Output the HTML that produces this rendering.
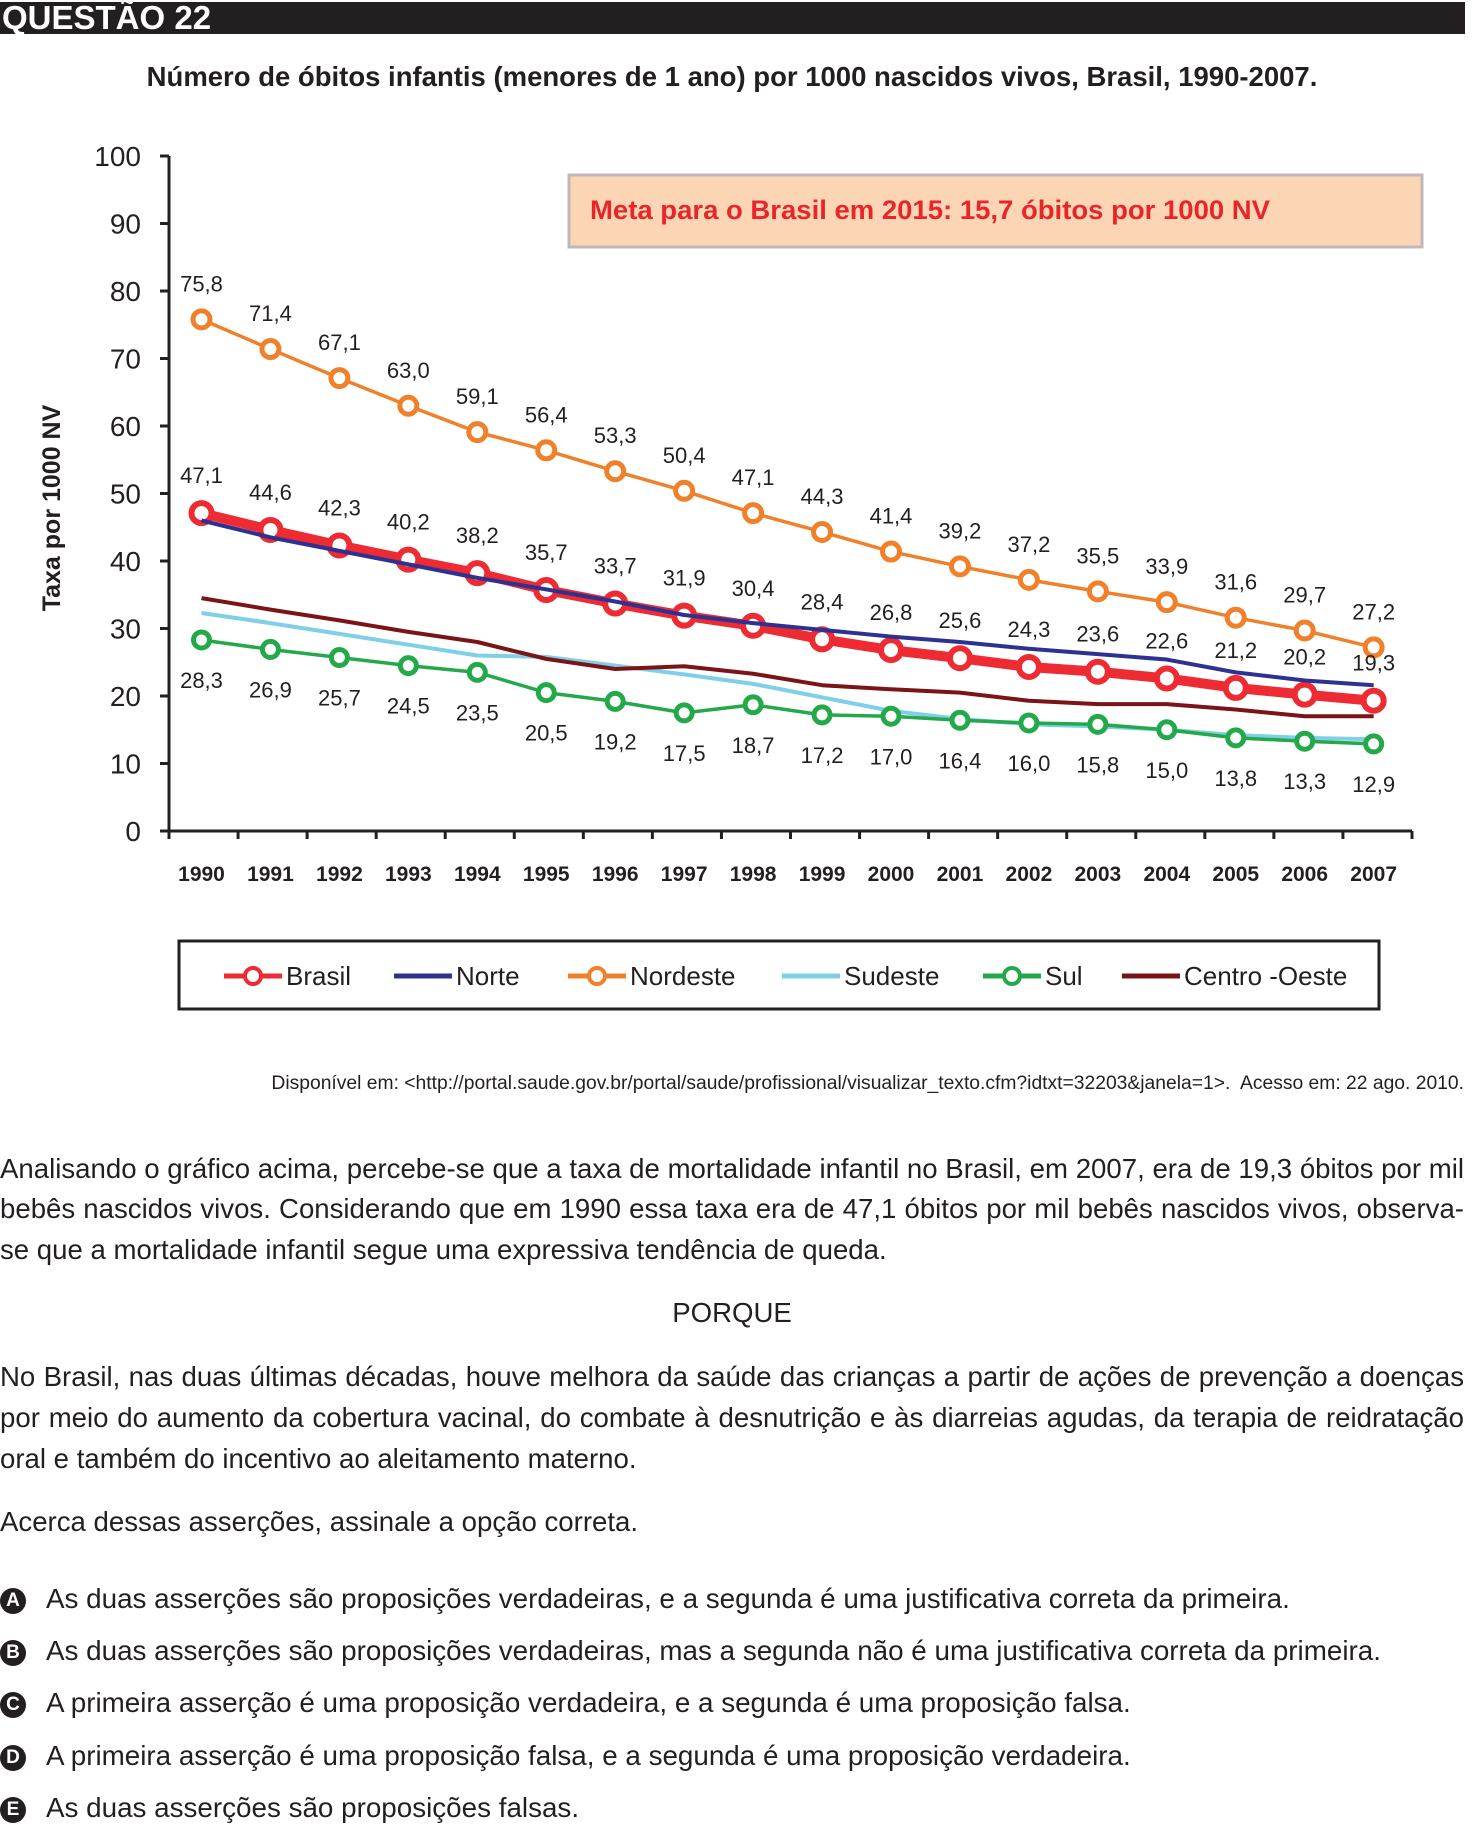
<!DOCTYPE html>
<html><head><meta charset="utf-8">
<style>
body{margin:0;width:1474px;height:1815px;background:#fff;position:relative;font-family:"Liberation Sans",Arial,sans-serif;color:#231f20;overflow:hidden}
.abs{position:absolute}
.p{position:absolute;left:0;width:1464px;font-size:27.6px;white-space:nowrap}
.j{text-align:justify;text-align-last:justify}
.opt{position:absolute;left:0;font-size:27.8px;white-space:nowrap}
.bul{display:inline-block;width:26px;height:26px;border-radius:50%;background:#231f20;color:#fff;font-weight:bold;font-size:19px;text-align:center;line-height:26px;margin-right:20px;vertical-align:2px}
</style></head><body>
<div class="abs" style="left:0;top:2px;width:1465px;height:32px;background:#231f20"></div>
<div class="abs" style="left:2px;top:-1px;color:#fff;font-weight:bold;font-size:33px;line-height:37px">QUESTÃO 22</div>
<div class="abs" style="left:0;width:1464px;top:61px;text-align:center;font-weight:bold;font-size:27.5px">Número de óbitos infantis (menores de 1 ano) por 1000 nascidos vivos, Brasil, 1990-2007.</div>

<svg class="abs" style="left:0;top:0" width="1474" height="1050" id="chart">
<rect x="569" y="175" width="853" height="72" fill="#fcd5b5" stroke="#c0b8b8" stroke-width="3"/>
<text x="590" y="219" fill="#e8262a" font-size="27" font-weight="bold" font-family="Liberation Sans Narrow, Liberation Sans, sans-serif" textLength="680" lengthAdjust="spacingAndGlyphs">Meta para o Brasil em 2015: 15,7 óbitos por 1000 NV</text>
<text transform="translate(60,508) rotate(-90)" text-anchor="middle" font-size="25" font-weight="bold" fill="#231f20">Taxa por 1000 NV</text>
<g id="axes"></g><g id="series"></g><g id="labels"></g>
<rect x="179" y="941" width="1200" height="68" fill="#fff" stroke="#231f20" stroke-width="3"/>
<g id="legend"></g>
</svg>

<div class="abs" style="right:10px;top:1073px;font-size:19.3px">Disponível em: &lt;http://portal.saude.gov.br/portal/saude/profissional/visualizar_texto.cfm?idtxt=32203&amp;janela=1&gt;.&nbsp; Acesso em: 22 ago. 2010.</div>

<div class="p j" style="top:1153px">Analisando o gráfico acima, percebe-se que a taxa de mortalidade infantil no Brasil, em 2007, era de 19,3 óbitos por mil</div>
<div class="p j" style="top:1193px">bebês nascidos vivos. Considerando que em 1990 essa taxa era de 47,1 óbitos por mil bebês nascidos vivos, observa-</div>
<div class="p" style="top:1234px">se que a mortalidade infantil segue uma expressiva tendência de queda.</div>
<div class="p" style="top:1297px;text-align:center">PORQUE</div>
<div class="p j" style="top:1361px">No Brasil, nas duas últimas décadas, houve melhora da saúde das crianças a partir de ações de prevenção a doenças</div>
<div class="p j" style="top:1402px">por meio do aumento da cobertura vacinal, do combate à desnutrição e às diarreias agudas, da terapia de reidratação</div>
<div class="p" style="top:1443px">oral e também do incentivo ao aleitamento materno.</div>
<div class="p" style="top:1506px">Acerca dessas asserções, assinale a opção correta.</div>
<div class="opt" style="top:1583px"><span class="bul">A</span>As duas asserções são proposições verdadeiras, e a segunda é uma justificativa correta da primeira.</div>
<div class="opt" style="top:1635px"><span class="bul">B</span>As duas asserções são proposições verdadeiras, mas a segunda não é uma justificativa correta da primeira.</div>
<div class="opt" style="top:1687px"><span class="bul">C</span>A primeira asserção é uma proposição verdadeira, e a segunda é uma proposição falsa.</div>
<div class="opt" style="top:1740px"><span class="bul">D</span>A primeira asserção é uma proposição falsa, e a segunda é uma proposição verdadeira.</div>
<div class="opt" style="top:1792px"><span class="bul">E</span>As duas asserções são proposições falsas.</div>

<script>
const years=[1990,1991,1992,1993,1994,1995,1996,1997,1998,1999,2000,2001,2002,2003,2004,2005,2006,2007];
const yTicks=[0,10,20,30,40,50,60,70,80,90,100];
const brasil=[47.1,44.6,42.3,40.2,38.2,35.7,33.7,31.9,30.4,28.4,26.8,25.6,24.3,23.6,22.6,21.2,20.2,19.3];
const norte=[46,43.5,41.5,39.5,37.5,35.8,34,32,30.8,29.8,28.8,28,27,26.2,25.4,23.5,22.3,21.6];
const nordeste=[75.8,71.4,67.1,63.0,59.1,56.4,53.3,50.4,47.1,44.3,41.4,39.2,37.2,35.5,33.9,31.6,29.7,27.2];
const sudeste=[32.3,30.8,29.2,27.6,26,25.8,24.5,23.2,21.8,19.8,17.8,16.6,15.8,15.5,15,14.2,13.8,13.6];
const sul=[28.3,26.9,25.7,24.5,23.5,20.5,19.2,17.5,18.7,17.2,17.0,16.4,16.0,15.8,15.0,13.8,13.3,12.9];
const centroOeste=[34.5,32.8,31.2,29.5,28,25.5,24,24.4,23.3,21.6,21,20.5,19.3,18.8,18.8,18,17,17];

const NS="http://www.w3.org/2000/svg";
const X=i=>201.5+i*68.95;
const Y=v=>831-v*6.75;
function mk(tag,attrs,parent,txt){const e=document.createElementNS(NS,tag);for(const k in attrs)e.setAttribute(k,attrs[k]);if(txt!==undefined)e.textContent=txt;parent.appendChild(e);return e;}
const fmt=v=>v.toFixed(1).replace('.',',');
const ax=document.getElementById('axes'),se=document.getElementById('series'),lb=document.getElementById('labels'),lg=document.getElementById('legend');

let e=mk('line',{x1:169,y1:Y(100),x2:169,y2:Y(0),stroke:'#231f20','stroke-width':3},ax);

e=mk('line',{x1:169,y1:Y(0),x2:1412,y2:Y(0),stroke:'#231f20','stroke-width':3},ax);

yTicks.forEach(t=>{
  mk('line',{x1:160,y1:Y(t),x2:169,y2:Y(t),stroke:'#231f20','stroke-width':3},ax);
  const tx=mk('text',{x:141,y:Y(t)+10,'text-anchor':'end','font-size':28,fill:'#231f20'},ax,String(t));
  
  
});
for(let i=0;i<=18;i++){const xx=169+i*(1412-169)/18;mk('line',{x1:xx,y1:Y(0),x2:xx,y2:Y(0)+8,stroke:'#231f20','stroke-width':3},ax);}
years.forEach((yr,i)=>{
  const tx=mk('text',{x:X(i),y:881,'text-anchor':'middle','font-size':21,'font-weight':'bold',fill:'#231f20'},ax,String(yr));
  
  
});
function line(arr,color,w,name){
  const p=mk('polyline',{points:arr.map((v,i)=>X(i)+','+Y(v)).join(' '),fill:'none',stroke:color,'stroke-width':w,'stroke-linejoin':'round'},se);
  
  
}
function markers(arr,color,r,sw,name){
  arr.forEach((v,i)=>{const c=mk('circle',{cx:X(i),cy:Y(v),r:r,fill:'#fff',stroke:color,'stroke-width':sw},se);
  
  });
}
line(sudeste,'#7fcfe8',4,'sudeste-line');
line(centroOeste,'#7a1416',4,'centro-oeste-line');
line(sul,'#23a94a',3.5,'sul-line');
markers(sul,'#23a94a',8,5,'sul-point');
line(brasil,'#ee2a32',10,'brasil-line');
markers(brasil,'#ee2a32',10,6,'brasil-point');
line(norte,'#2d3192',4,'norte-line');
line(nordeste,'#f0802a',3.5,'nordeste-line');
markers(nordeste,'#f0802a',8.5,5,'nordeste-point');
function labels(arr,dy,name){
  arr.forEach((v,i)=>{const t=mk('text',{x:X(i),y:Y(v)+dy,'text-anchor':'middle','font-size':22,fill:'#231f20'},lb,fmt(v));
  
  });
}
labels(nordeste,-28,'nordeste-value-label');
labels(brasil,-30,'brasil-value-label');
labels(sul,48,'sul-value-label');

const legNames=['Brasil','Norte','Nordeste','Sudeste','Sul','Centro -Oeste'];
const legColors=['#ee2a32','#2d3192','#f0802a','#7fcfe8','#23a94a','#7a1416'];
const legX=[224,394,568,782,983,1122];
const legMark=[true,false,true,false,true,false];
legNames.forEach((n,i)=>{
  const g=mk('g',{},lg);
  
  
  mk('line',{x1:legX[i],y1:976,x2:legX[i]+58,y2:976,stroke:legColors[i],'stroke-width':5},g);
  if(legMark[i])mk('circle',{cx:legX[i]+29,cy:976,r:8,fill:'#fff',stroke:legColors[i],'stroke-width':4},g);
  mk('text',{x:legX[i]+62,y:985,'font-size':26,fill:'#231f20'},g,n);
});
</script>
</body></html>
